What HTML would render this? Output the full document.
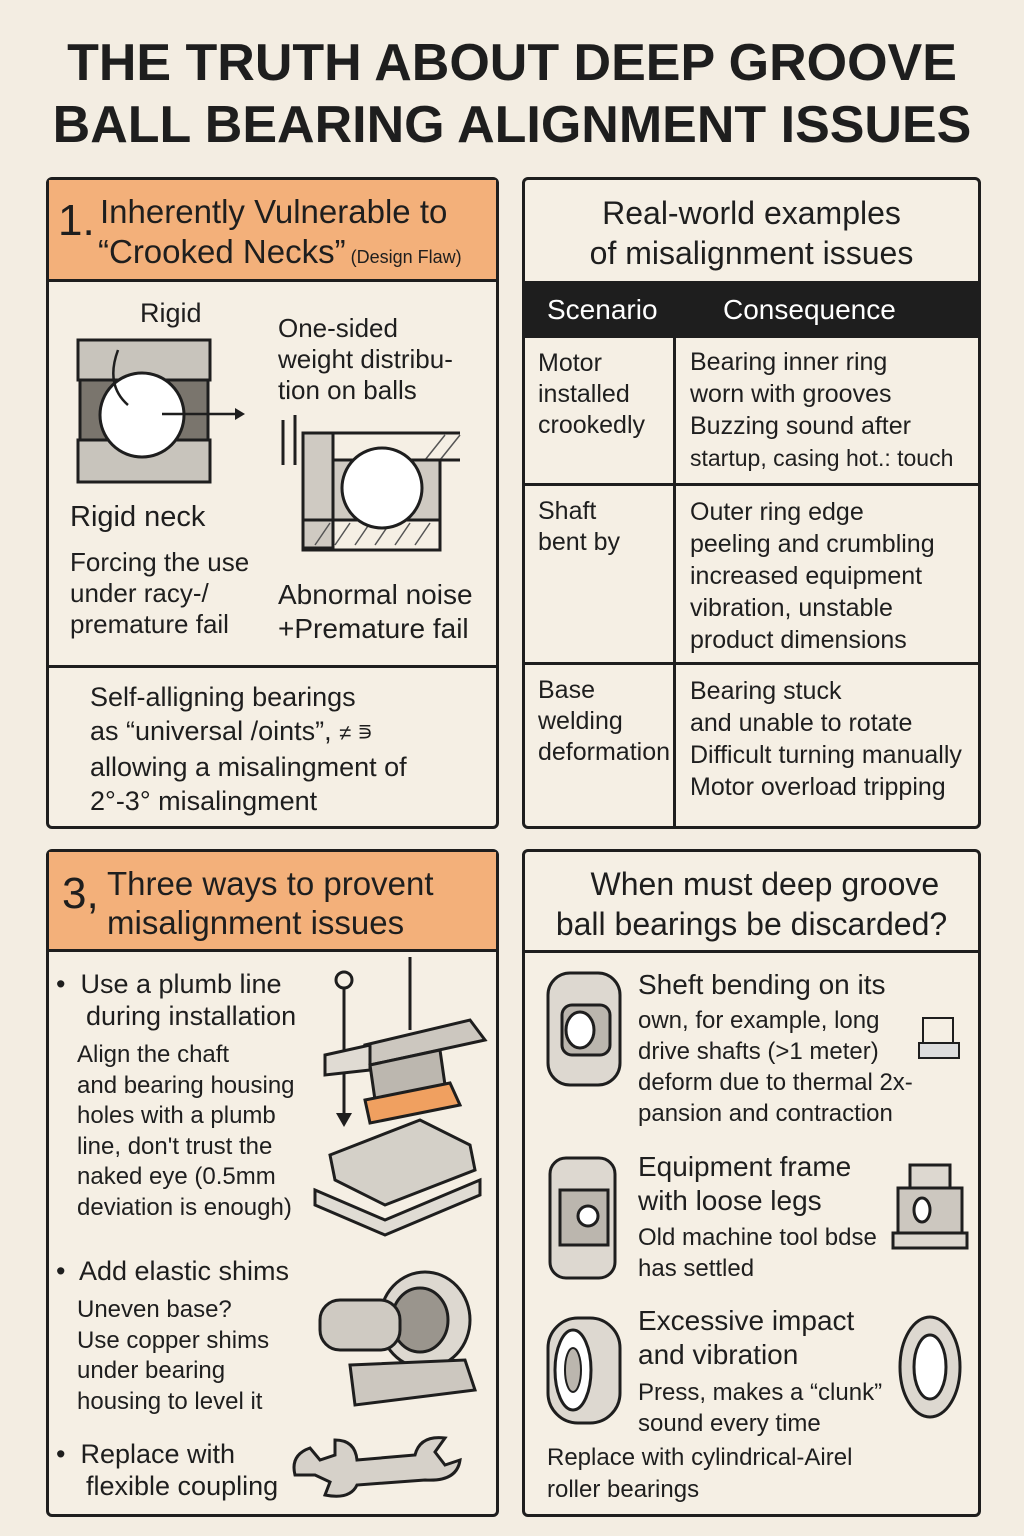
<!DOCTYPE html>
<html><head><meta charset="utf-8">
<style>
*{margin:0;padding:0;box-sizing:border-box}
body{width:1024px;height:1536px;background:#f3ede2;font-family:"Liberation Sans","DejaVu Sans",sans-serif;color:#1e1e1e;position:relative;overflow:hidden}
.a{position:absolute}
.t{position:absolute;white-space:nowrap;line-height:1.2}
.box{position:absolute;border:3px solid #1e1e1e;border-radius:6px;background:#f5efe4}
.org{position:absolute;background:#f3b07a;border-bottom:3px solid #1e1e1e}
.hl{position:absolute;height:3px;background:#1e1e1e}
.vl{position:absolute;width:3px;background:#1e1e1e}
h1{position:absolute;left:0;width:1024px;text-align:center;font-size:52px;font-weight:bold;letter-spacing:0;line-height:62px}
</style></head><body>
<h1 style="top:32px">THE TRUTH ABOUT DEEP GROOVE<br>BALL BEARING ALIGNMENT ISSUES</h1>

<!-- Panel 1 -->
<div class="box" style="left:46px;top:177px;width:453px;height:652px"></div>
<div class="org" style="left:49px;top:180px;width:447px;height:102px"></div>
<div class="t" style="left:58px;top:195px;font-size:44px">1.</div>
<div class="t" style="left:100px;top:192px;font-size:33px">Inherently Vulnerable to</div>
<div class="t" style="left:98px;top:232px;font-size:33px">“Crooked Necks”<span style="font-size:18px"> (Design Flaw)</span></div>
<div class="t" style="left:140px;top:297px;font-size:27px">Rigid</div>
<svg class="a" style="left:70px;top:330px" width="190" height="160">
<rect x="8" y="10" width="132" height="40" fill="#c8c4bc" stroke="#1e1e1e" stroke-width="3"/>
<rect x="8" y="110" width="132" height="42" fill="#c8c4bc" stroke="#1e1e1e" stroke-width="3"/>
<rect x="10" y="50" width="128" height="60" fill="#7a756d" stroke="#1e1e1e" stroke-width="3"/>
<circle cx="72" cy="85" r="42" fill="#fff" stroke="#1e1e1e" stroke-width="3"/>
<path d="M48 20 Q35 55 58 75" fill="none" stroke="#1e1e1e" stroke-width="2.5"/>
<path d="M92 84 L165 84" stroke="#1e1e1e" stroke-width="2.5"/><path d="M165 78 L175 84 L165 90Z" fill="#1e1e1e"/>
</svg>
<div class="t" style="left:70px;top:500px;font-size:29px">Rigid neck</div>
<div class="t" style="left:70px;top:547px;font-size:26px;line-height:31px">Forcing the use<br>under racy-/<br>premature fail</div>
<div class="t" style="left:278px;top:313px;font-size:26px;line-height:31px">One-sided<br>weight distribu-<br>tion on balls</div>
<svg class="a" style="left:275px;top:415px" width="200" height="140">
<path d="M8 5 V50 M20 0 V50" stroke="#1e1e1e" stroke-width="3"/>
<rect x="28" y="18" width="30" height="115" fill="#cfcac2" stroke="#1e1e1e" stroke-width="3"/>
<path d="M58 18 H185 M58 45 H185" stroke="#1e1e1e" stroke-width="3"/>
<rect x="28" y="105" width="137" height="30" fill="none" stroke="#1e1e1e" stroke-width="3"/>
<path d="M40 130 L55 108 M60 130 L75 108 M80 130 L95 108 M100 130 L115 108 M120 130 L135 108 M140 130 L155 108 M150 45 L170 20 M165 45 L185 20" stroke="#555" stroke-width="1.5"/>
<rect x="58" y="45" width="107" height="60" fill="#cfcac2" stroke="#1e1e1e" stroke-width="3"/>
<circle cx="107" cy="73" r="40" fill="#fff" stroke="#1e1e1e" stroke-width="3"/>
</svg>
<div class="t" style="left:278px;top:578px;font-size:28px;line-height:34px">Abnormal noise<br>+Premature fail</div>
<div class="hl" style="left:49px;top:665px;width:447px"></div>
<div class="t" style="left:90px;top:680px;font-size:27px;line-height:34px">Self-alligning bearings<br>as “universal /oints”, <span style="font-size:22px">≠ ⋾</span><br>allowing a misalingment of<br>2°-3° misalingment</div>

<!-- Panel 2 -->
<div class="box" style="left:522px;top:177px;width:459px;height:652px"></div>
<div class="t" style="left:525px;top:193px;width:453px;text-align:center;font-size:32px;line-height:40px;white-space:normal">Real-world examples<br>of misalignment issues</div>
<div class="a" style="left:525px;top:281px;width:453px;height:57px;background:#1e1e1e"></div>
<div class="t" style="left:547px;top:293px;font-size:28px;color:#fff">Scenario</div>
<div class="t" style="left:723px;top:293px;font-size:28px;color:#fff">Consequence</div>
<div class="vl" style="left:673px;top:338px;height:488px"></div>
<div class="hl" style="left:525px;top:483px;width:453px"></div>
<div class="hl" style="left:525px;top:662px;width:453px"></div>
<div class="t" style="left:538px;top:348px;font-size:25px;line-height:31px">Motor<br>installed<br>crookedly</div>
<div class="t" style="left:690px;top:346px;font-size:25px;line-height:32px">Bearing inner ring<br>worn with grooves<br>Buzzing sound after<br><span style="font-size:23px">startup, casing hot.: touch</span></div>
<div class="t" style="left:538px;top:496px;font-size:25px;line-height:31px">Shaft<br>bent by</div>
<div class="t" style="left:690px;top:496px;font-size:25px;line-height:32px">Outer ring edge<br>peeling and crumbling<br>increased equipment<br>vibration, unstable<br>product dimensions</div>
<div class="t" style="left:538px;top:675px;font-size:25px;line-height:31px">Base<br>welding<br>deformation</div>
<div class="t" style="left:690px;top:675px;font-size:25px;line-height:32px">Bearing stuck<br>and unable to rotate<br>Difficult turning manually<br>Motor overload tripping</div>

<!-- Panel 3 -->
<div class="box" style="left:46px;top:849px;width:453px;height:668px"></div>
<div class="org" style="left:49px;top:852px;width:447px;height:100px"></div>
<div class="t" style="left:62px;top:868px;font-size:44px">3,</div>
<div class="t" style="left:107px;top:864px;font-size:33px;line-height:39px">Three ways to provent<br>misalignment issues</div>
<div class="t" style="left:56px;top:968px;font-size:27px;line-height:32px">•&nbsp; Use a plumb line<br>&nbsp;&nbsp;&nbsp;&nbsp;during installation</div>
<div class="t" style="left:77px;top:1040px;font-size:24px;line-height:30.5px">Align the chaft<br>and bearing housing<br>holes with a plumb<br>line, don't trust the<br>naked eye (0.5mm<br>deviation is enough)</div>
<svg class="a" style="left:310px;top:955px" width="185" height="290">
<circle cx="34" cy="25" r="8" fill="none" stroke="#1e1e1e" stroke-width="3"/>
<path d="M34 33 V165" stroke="#1e1e1e" stroke-width="3"/><path d="M26 158 L34 172 L42 158Z" fill="#1e1e1e"/>
<path d="M100 2 V75" stroke="#1e1e1e" stroke-width="3"/>
<path d="M55 90 L160 65 L175 85 L60 110Z" fill="#ccc7bf" stroke="#1e1e1e" stroke-width="3"/>
<path d="M15 100 L60 90 L60 115 L15 120Z" fill="#e0dbd3" stroke="#1e1e1e" stroke-width="3"/>
<path d="M60 110 L130 95 L135 130 L65 145Z" fill="#bcb7af" stroke="#1e1e1e" stroke-width="3"/>
<path d="M55 145 L140 128 L150 150 L60 168Z" fill="#f0a060" stroke="#1e1e1e" stroke-width="3"/>
<path d="M20 200 L110 165 L160 190 L165 215 L75 250 L25 225Z" fill="#d4d0c8" stroke="#1e1e1e" stroke-width="3"/>
<path d="M5 235 L75 265 L170 225 L170 240 L75 280 L5 250Z" fill="#e0dcd4" stroke="#1e1e1e" stroke-width="3"/>
</svg>
<div class="t" style="left:56px;top:1255px;font-size:27px">•&nbsp; Add elastic shims</div>
<div class="t" style="left:77px;top:1295px;font-size:24px;line-height:30.5px">Uneven base?<br>Use copper shims<br>under bearing<br>housing to level it</div>
<svg class="a" style="left:310px;top:1265px" width="180" height="150">
<ellipse cx="115" cy="55" rx="45" ry="48" fill="#ddd8d0" stroke="#1e1e1e" stroke-width="3"/>
<ellipse cx="110" cy="55" rx="28" ry="32" fill="#9a958d" stroke="#1e1e1e" stroke-width="3"/>
<rect x="10" y="35" width="80" height="50" rx="20" fill="#cfcac2" stroke="#1e1e1e" stroke-width="3"/>
<path d="M40 100 L155 95 L165 125 L45 140Z" fill="#ccc7bf" stroke="#1e1e1e" stroke-width="3"/>
</svg>
<div class="t" style="left:56px;top:1438px;font-size:27px;line-height:32px">•&nbsp; Replace with<br>&nbsp;&nbsp;&nbsp;&nbsp;flexible coupling</div>
<svg class="a" style="left:285px;top:1420px" width="180" height="80">
<path d="M10 55 Q5 35 25 28 L35 40 L50 35 L50 20 Q70 20 72 40 L130 35 Q135 15 160 18 L150 32 L160 45 L175 40 Q172 62 140 60 L72 65 Q65 80 40 75 L45 62 L30 55 Z" fill="#d6d1c9" stroke="#1e1e1e" stroke-width="3"/>
</svg>

<!-- Panel 4 -->
<div class="box" style="left:522px;top:849px;width:459px;height:668px"></div>
<div class="t" style="left:525px;top:864px;width:453px;text-align:center;font-size:32px;line-height:40px">&nbsp;&nbsp;&nbsp;When must deep groove<br>ball bearings be discarded?</div>
<div class="hl" style="left:525px;top:950px;width:453px"></div>
<svg class="a" style="left:540px;top:965px" width="90" height="130">
<rect x="8" y="8" width="72" height="112" rx="22" fill="#ddd8d0" stroke="#1e1e1e" stroke-width="3"/>
<rect x="22" y="40" width="48" height="50" rx="10" fill="#bbb6ae" stroke="#1e1e1e" stroke-width="3"/>
<ellipse cx="40" cy="65" rx="14" ry="18" fill="#fff" stroke="#1e1e1e" stroke-width="3"/>
</svg>
<div class="t" style="left:638px;top:968px;font-size:28px">Sheft bending on its</div>
<div class="t" style="left:638px;top:1005px;font-size:24px;line-height:31px">own, for example, long<br>drive shafts (&gt;1 meter)<br>deform due to thermal 2x-<br>pansion and contraction</div>
<svg class="a" style="left:915px;top:1010px" width="50" height="55"><rect x="8" y="8" width="30" height="25" fill="none" stroke="#1e1e1e" stroke-width="2"/><rect x="4" y="33" width="40" height="15" fill="#ddd" stroke="#1e1e1e" stroke-width="2"/></svg>
<svg class="a" style="left:540px;top:1150px" width="90" height="135">
<rect x="10" y="8" width="65" height="120" rx="16" fill="#ddd8d0" stroke="#1e1e1e" stroke-width="3"/>
<rect x="20" y="40" width="48" height="55" fill="#bbb6ae" stroke="#1e1e1e" stroke-width="3"/>
<circle cx="48" cy="66" r="10" fill="#fff" stroke="#1e1e1e" stroke-width="3"/>
</svg>
<div class="t" style="left:638px;top:1150px;font-size:28px;line-height:34px">Equipment frame<br>with loose legs</div>
<div class="t" style="left:638px;top:1222px;font-size:24px;line-height:31px">Old machine tool bdse<br>has settled</div>
<svg class="a" style="left:890px;top:1160px" width="80" height="95">
<rect x="20" y="5" width="40" height="25" fill="#ddd8d0" stroke="#1e1e1e" stroke-width="3"/>
<rect x="8" y="28" width="64" height="45" fill="#ccc7bf" stroke="#1e1e1e" stroke-width="3"/>
<ellipse cx="32" cy="50" rx="8" ry="12" fill="#fff" stroke="#1e1e1e" stroke-width="3"/>
<rect x="3" y="73" width="74" height="15" fill="#ddd8d0" stroke="#1e1e1e" stroke-width="3"/>
</svg>
<svg class="a" style="left:540px;top:1310px" width="90" height="120">
<rect x="8" y="8" width="72" height="105" rx="30" fill="#ddd8d0" stroke="#1e1e1e" stroke-width="3"/>
<ellipse cx="33" cy="60" rx="18" ry="40" fill="#fff" stroke="#1e1e1e" stroke-width="3"/>
<ellipse cx="33" cy="60" rx="8" ry="22" fill="#bbb6ae" stroke="#1e1e1e" stroke-width="2"/>
</svg>
<div class="t" style="left:638px;top:1304px;font-size:28px;line-height:34px">Excessive impact<br>and vibration</div>
<div class="t" style="left:638px;top:1377px;font-size:24px;line-height:31px">Press, makes a “clunk”<br>sound every time</div>
<svg class="a" style="left:893px;top:1310px" width="75" height="115">
<ellipse cx="37" cy="57" rx="30" ry="50" fill="#ddd8d0" stroke="#1e1e1e" stroke-width="3"/>
<ellipse cx="37" cy="57" rx="16" ry="32" fill="#fff" stroke="#1e1e1e" stroke-width="3"/>
</svg>
<div class="t" style="left:547px;top:1442px;font-size:24px;line-height:32px">Replace with cylindrical-Airel<br>roller bearings</div>
</body></html>
